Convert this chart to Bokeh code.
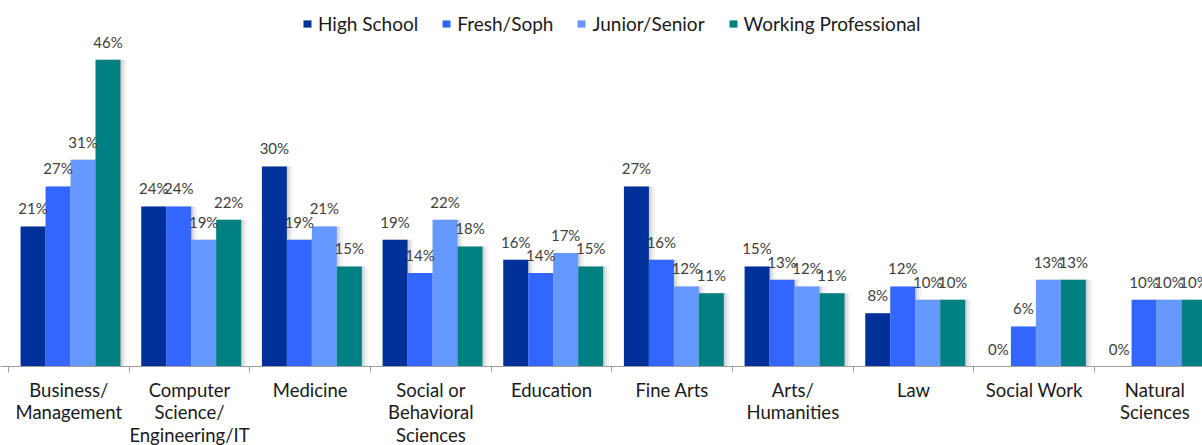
import numpy as np
from bokeh.plotting import figure
from bokeh.models import ColumnDataSource, Range1d, FixedTicker, LabelSet, Legend, LegendItem
from bokeh.transform import dodge
from bokeh.core.properties import value
from bokeh.embed import file_html
from bokeh.resources import INLINE

categories = ["Business/\nManagement", "Computer\nScience/\nEngineering/IT", "Medicine",
              "Social or\nBehavioral\nSciences", "Education", "Fine Arts",
              "Arts/\nHumanities", "Law", "Social Work", "Natural\nSciences"]
series = ["High School", "Fresh/Soph", "Junior/Senior", "Working Professional"]
high_school = [21, 24, 30, 19, 16, 27, 15, 8, 0, 0]
fresh_soph = [27, 24, 19, 14, 14, 16, 13, 12, 6, 10]
junior_senior = [31, 19, 21, 22, 17, 12, 12, 10, 13, 10]
working_prof = [46, 22, 15, 18, 15, 11, 11, 10, 13, 10]
colors = ["#00309A", "#3366FF", "#6699FF", "#008080"]

FONT = "Lato"
xc = np.arange(len(categories)) + 0.5
data = dict(x=xc, hs=high_school, fs=fresh_soph, js=junior_senior, wp=working_prof)
for k in ["hs", "fs", "js", "wp"]:
    data[k + "_lbl"] = [f"{v}%" for v in data[k]]
src = ColumnDataSource(data)

W, H = 1202, 445
CW = 120.67      # px per category
PX = 6.67        # px per percent
LEFT = 8         # first category boundary, px
BASE = 366       # baseline, px from top
p = figure(width=W, height=H, output_backend="svg", toolbar_location=None,
           x_range=Range1d(-LEFT / CW, (W - LEFT) / CW),
           y_range=Range1d(-(H - BASE) / PX, BASE / PX),
           y_axis_location=None, min_border_left=0, min_border_right=0,
           min_border_top=0, min_border_bottom=0)
p.outline_line_color = None
p.grid.visible = False
p.background_fill_color = "white"

bw = 0.207
shift = 0.014
offs = [shift - 1.5 * bw, shift - 0.5 * bw, shift + 0.5 * bw, shift + 1.5 * bw]
keys = ["hs", "fs", "js", "wp"]

for dx, a in [(0.05, 0.08), (0.03, 0.12), (0.015, 0.15)]:
    for k, o in zip(keys, offs):
        p.vbar(x=dodge("x", o + dx, range=p.x_range), top=k, width=bw, bottom=0, source=src,
               fill_color="#707070", fill_alpha=a, line_color=None)

items = []
for k, o, c, name in zip(keys, offs, colors, series):
    r = p.vbar(x=dodge("x", o, range=p.x_range), top=k, width=bw, bottom=0, source=src,
               fill_color=c, line_color=None)
    items.append(LegendItem(label=name, renderers=[r]))
    lbl = LabelSet(x=dodge("x", o, range=p.x_range), y=k, text=k + "_lbl", source=src,
                   text_align="center", text_baseline="bottom", y_offset=9,
                   text_font=value(FONT), text_font_size="15px", text_color="#404040")
    p.add_layout(lbl)

legend = Legend(items=items, location=(302, 410), orientation="horizontal",
                background_fill_alpha=0, border_line_color=None,
                label_text_font=FONT, label_text_font_size="19px", label_text_color="#1a1a1a",
                glyph_width=10, glyph_height=9, label_standoff=6, spacing=23,
                margin=0, padding=0)
p.add_layout(legend)

ax = p.xaxis[0]
ax.fixed_location = 0
ax.ticker = FixedTicker(ticks=list(xc), minor_ticks=list(np.arange(len(categories) + 1)))
ax.major_label_overrides = {float(x): c for x, c in zip(xc, categories)}
ax.major_tick_line_color = None
ax.major_tick_out = 0
ax.minor_tick_out = 6
ax.minor_tick_in = 0
ax.minor_tick_line_color = "#A0A0A0"
ax.axis_line_color = "#A0A0A0"
ax.major_label_standoff = 6
ax.major_label_text_font = FONT
ax.major_label_text_font_size = "18.5px"
ax.major_label_text_color = "#1a1a1a"
ax.major_label_text_line_height = 1.04

open("out.html", "w").write(file_html(p, INLINE))
